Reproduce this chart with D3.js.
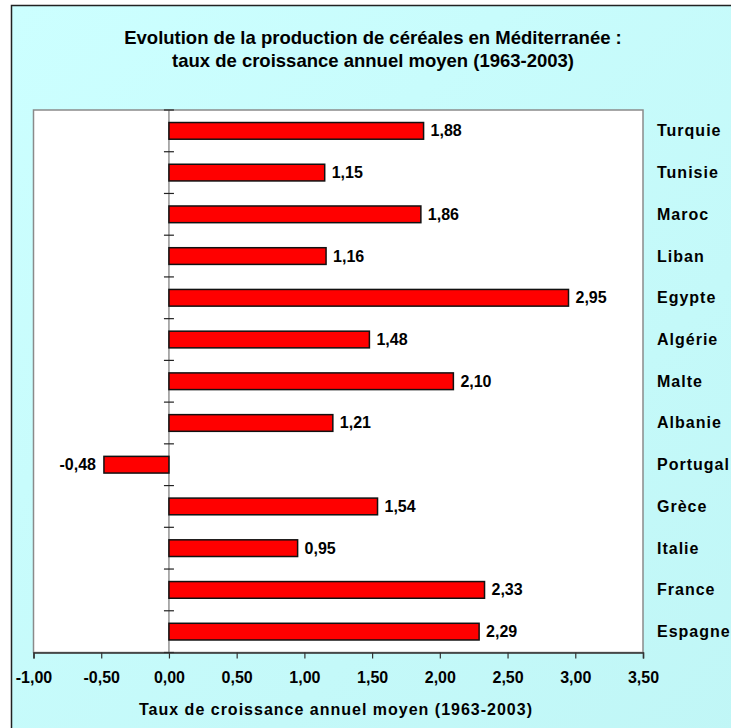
<!DOCTYPE html>
<html>
<head>
<meta charset="utf-8">
<script src="https://cdn.jsdelivr.net/npm/d3@7"></script>
<style>
  body { margin: 0; background: #fff; }
  text { font-family: Arial, "Liberation Sans", sans-serif; font-weight: bold; fill: #000; }
</style>
</head>
<body>
<svg id="chart" width="731" height="728"></svg>
<script>
// data, top to bottom
const countries = ["Turquie", "Tunisie", "Maroc", "Liban", "Egypte", "Algérie", "Malte",
    "Albanie", "Portugal", "Grèce", "Italie", "France", "Espagne"];
const rates = [1.88, 1.15, 1.86, 1.16, 2.95, 1.48, 2.10, 1.21, -0.48, 1.54, 0.95, 2.33, 2.29];
const xTicks = [-1, -0.5, 0, 0.5, 1, 1.5, 2, 2.5, 3, 3.5];
const titleLines = ["Evolution de la production de céréales en Méditerranée :",
    "taux de croissance annuel moyen (1963-2003)"];
const xTitle = "Taux de croissance annuel moyen (1963-2003)";

let svg = d3.select("#chart");
let fmt = function (v) { return d3.format(".2f")(v).replace(".", ",").replace("−", "-"); };

// outer frame
let defs = svg.append("defs");
let grad = defs.append("linearGradient").attr("id", "bg")
    .attr("x1", 0).attr("y1", 0).attr("x2", 1).attr("y2", 1);
grad.append("stop").attr("offset", "0%").attr("stop-color", "#ccffff");
grad.append("stop").attr("offset", "100%").attr("stop-color", "#c0f6f6");

svg.append("rect")
    .attr("x", 11.5).attr("y", 5.5).attr("width", 740).attr("height", 740)
    .attr("fill", "url(#bg)").attr("stroke", "#222").attr("stroke-width", 1.5);

// title
svg.selectAll(".title").data(titleLines).enter().append("text")
    .attr("class", "title")
    .attr("x", 373).attr("y", function (d, i) { return 44 + i * 23; })
    .attr("text-anchor", "middle").style("font-size", "18.5px")
    .text(function (d) { return d; });

// plot area
let pLeft = 33.5, pRight = 643, pTop = 110, pBottom = 652.5;

let xScale = d3.scaleLinear().domain([-1, 3.5]).range([pLeft, pRight]);
let yScale = d3.scaleBand().domain(countries).range([pTop, pBottom]).paddingInner(0.6).paddingOuter(0.3);
let bandStep = (pBottom - pTop) / countries.length;

svg.append("rect")
    .attr("x", pLeft).attr("y", pTop).attr("width", pRight - pLeft).attr("height", pBottom - pTop)
    .attr("fill", "#fff").attr("stroke", "#8a8a8a").attr("stroke-width", 1.5);

// zero line with category ticks
let zx = xScale(0);
svg.append("line").attr("x1", zx).attr("x2", zx).attr("y1", pTop).attr("y2", pBottom)
    .attr("stroke", "#777").attr("stroke-width", 1.2);
svg.selectAll(".ytick").data(d3.range(countries.length + 1)).enter().append("line")
    .attr("x1", zx - 5).attr("x2", zx + 5)
    .attr("y1", function (i) { return pTop + i * bandStep; })
    .attr("y2", function (i) { return pTop + i * bandStep; })
    .attr("stroke", "#222").attr("stroke-width", 1.2);

// bars
svg.selectAll(".bar").data(rates).enter().append("rect")
    .attr("class", "bar")
    .attr("x", function (d) { return Math.min(xScale(d), zx); })
    .attr("y", function (d, i) { return yScale(countries[i]); })
    .attr("width", function (d) { return Math.abs(xScale(d) - zx); })
    .attr("height", yScale.bandwidth())
    .attr("fill", "#ff0000").attr("stroke", "#111").attr("stroke-width", 1.5);

// value labels
svg.selectAll(".val").data(rates).enter().append("text")
    .attr("class", "val")
    .attr("x", function (d) { return d < 0 ? xScale(d) - 8 : xScale(d) + 7; })
    .attr("y", function (d, i) { return yScale(countries[i]) + yScale.bandwidth() / 2 + 5.5; })
    .attr("text-anchor", function (d) { return d < 0 ? "end" : "start"; })
    .style("font-size", "16px")
    .text(function (d) { return fmt(d); });

// category labels on the right
svg.selectAll(".cat").data(countries).enter().append("text")
    .attr("class", "cat")
    .attr("x", 657)
    .attr("y", function (d) { return yScale(d) + yScale.bandwidth() / 2 + 5.5; })
    .style("font-size", "16px").style("letter-spacing", "1px")
    .text(function (d) { return d; });

// x axis
let xAxis = d3.axisBottom(xScale).tickValues(xTicks).tickSize(6).tickPadding(13)
    .tickFormat(fmt);
let gx = svg.append("g").attr("transform", "translate(0," + pBottom + ")").call(xAxis);
gx.select(".domain").attr("stroke", "#333").attr("stroke-width", 1.5);
gx.selectAll(".tick line").attr("stroke", "#333").attr("stroke-width", 1.2);
gx.selectAll(".tick text")
    .style("font-size", "16px").style("font-family", "Arial, 'Liberation Sans', sans-serif")
    .style("font-weight", "bold").attr("fill", "#000");

svg.append("text")
    .attr("x", 336).attr("y", 715)
    .attr("text-anchor", "middle").style("font-size", "16px").style("letter-spacing", "1px")
    .text(xTitle);
</script>
</body>
</html>
